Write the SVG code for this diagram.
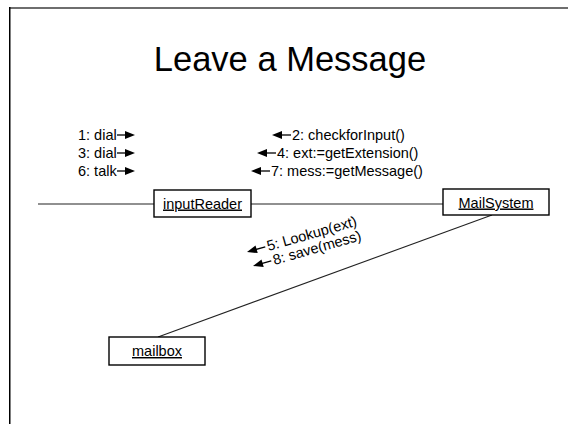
<svg xmlns="http://www.w3.org/2000/svg" width="568" height="424" viewBox="0 0 568 424">
  <style>
    text { font-family: "Liberation Sans", Arial, sans-serif; fill: #000; }
    .title { font-size: 34.5px; }
    .msg { font-size: 14.5px; }
    .obj { font-size: 14.5px; text-decoration: underline; }
    .box { fill: #fff; stroke: #000; stroke-width: 1.4; }
    .link { stroke: #222; stroke-width: 1.1; fill: none; }
    .shaft { stroke: #000; stroke-width: 1.3; }
    .head { fill: #000; }
  </style>
  <defs>
    <!-- right-pointing message arrow, tip at origin -->
    <g id="arrowR">
      <line class="shaft" x1="-18" y1="0" x2="-6" y2="0"/>
      <polygon class="head" points="0,0 -10,-4 -10,4"/>
    </g>
    <!-- left-pointing message arrow, tip at origin -->
    <g id="arrowL">
      <line class="shaft" x1="6" y1="0" x2="19" y2="0"/>
      <polygon class="head" points="0,0 10,-4 10,4"/>
    </g>
  </defs>

  <rect width="568" height="424" fill="#fff"/>

  <!-- frame edges -->
  <line x1="9" y1="8" x2="568" y2="8" stroke="#6e6e6e" stroke-width="2"/>
  <line x1="9.75" y1="7" x2="9.75" y2="424" stroke="#000" stroke-width="1.5"/>

  <text class="title" x="290" y="71" text-anchor="middle">Leave a Message</text>

  <!-- connectors -->
  <g id="connectors">
    <line class="link" x1="38" y1="204" x2="154" y2="204"/>
    <line class="link" x1="251" y1="204" x2="443" y2="204"/>
    <line class="link" x1="492" y1="215" x2="158" y2="337"/>
  </g>

  <!-- objects -->
  <g id="inputReader">
    <rect class="box" x="154" y="190" width="97" height="27"/>
    <text class="obj" x="202.5" y="208.5" text-anchor="middle">inputReader</text>
  </g>
  <g id="MailSystem">
    <rect class="box" x="443" y="189" width="106" height="26"/>
    <text class="obj" x="496" y="207.5" text-anchor="middle">MailSystem</text>
  </g>
  <g id="mailbox">
    <rect class="box" x="109" y="337" width="96" height="28"/>
    <text class="obj" x="157" y="356" text-anchor="middle">mailbox</text>
  </g>

  <!-- messages to inputReader -->
  <g id="messages-left">
    <text class="msg" x="78" y="140">1: dial</text>
    <use href="#arrowR" x="135" y="135"/>
    <text class="msg" x="78" y="158">3: dial</text>
    <use href="#arrowR" x="135" y="153"/>
    <text class="msg" x="78" y="176">6: talk</text>
    <use href="#arrowR" x="135" y="171"/>
  </g>

  <!-- messages from MailSystem -->
  <g id="messages-right">
    <use href="#arrowL" x="272" y="135"/>
    <text class="msg" x="292" y="140">2: checkforInput()</text>
    <use href="#arrowL" x="257" y="153"/>
    <text class="msg" x="277" y="158">4: ext:=getExtension()</text>
    <use href="#arrowL" x="251" y="171"/>
    <text class="msg" x="271" y="176">7: mess:=getMessage()</text>
  </g>

  <!-- messages to mailbox, along the link -->
  <g id="messages-mailbox">
    <g transform="translate(247,252) rotate(-16)">
      <use href="#arrowL"/>
      <text class="msg" x="21" y="5">5: Lookup(ext)</text>
    </g>
    <g transform="translate(253,266) rotate(-16)">
      <use href="#arrowL"/>
      <text class="msg" x="21" y="5">8: save(mess)</text>
    </g>
  </g>
</svg>
